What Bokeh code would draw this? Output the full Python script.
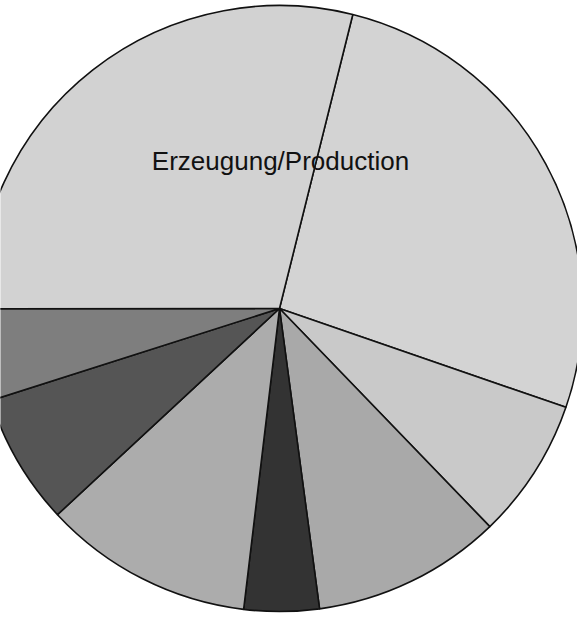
import numpy as np
from bokeh.plotting import figure
from bokeh.models import Range1d, ColumnDataSource
from bokeh.core.properties import value
from bokeh.embed import file_html
from bokeh.resources import INLINE

# Shares (%) of each slice, clockwise starting from the top boundary
shares = [26.4, 7.5, 10.1, 4.0, 11.2, 7.0, 4.9, 28.9]
colors = ["#d3d3d3", "#c9c9c9", "#a9a9a9", "#333333", "#acacac", "#555555", "#7e7e7e", "#d2d2d2"]
label_text = ["Erzeugung/Production"]

W, H = 577, 614
cx, cy, R = 279, 306, 303
start_cw = 14.0  # degrees clockwise from top where first slice begins

cum = np.concatenate([[0], np.cumsum(shares)]) / 100.0 * 360.0 + start_cw
start_ang = np.deg2rad(90 - cum[1:])
end_ang = np.deg2rad(90 - cum[:-1])

src = ColumnDataSource(dict(x=[cx] * len(shares), y=[cy] * len(shares),
                            start=start_ang, end=end_ang, color=colors))

p = figure(width=W, height=H, output_backend="svg", toolbar_location=None,
           x_range=Range1d(0, W), y_range=Range1d(0, H), min_border=0)
p.axis.visible = False
p.grid.visible = False
p.outline_line_color = None
p.background_fill_color = "white"
p.border_fill_color = "white"

p.wedge(x="x", y="y", radius=R, start_angle="start", end_angle="end",
        fill_color="color", line_color="#111111", line_width=1.6, source=src)

p.text(x=[280], y=[454], text=label_text, text_align="center", text_baseline="middle",
       text_font=value("Liberation Sans"), text_font_size="26px", text_color="#111111")

open("out.html", "w").write(file_html(p, INLINE))
